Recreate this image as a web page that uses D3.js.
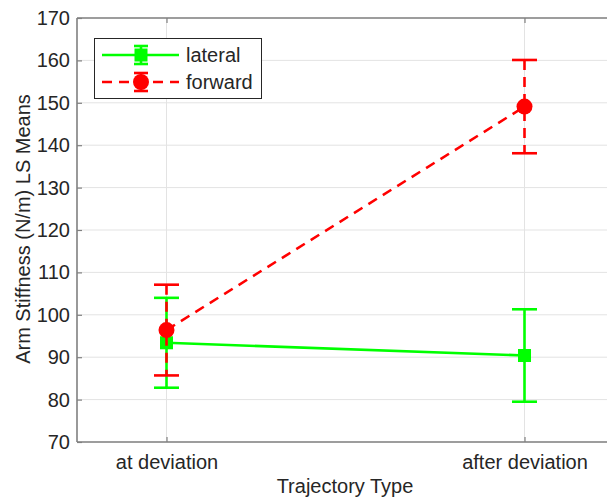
<!DOCTYPE html>
<html>
<head>
<meta charset="utf-8">
<script src="https://cdn.jsdelivr.net/npm/d3@7"></script>
<style>
  html, body { margin: 0; padding: 0; background: #fff; }
  svg { display: block; font-family: "Liberation Sans", Arial, sans-serif; }
</style>
</head>
<body>
<svg id="chart" width="607" height="499"></svg>
<script>
// Trajectory categories and their positions on the x axis
const categories = ["at deviation", "after deviation"];
const categoryPos = [1, 2];

// LS means with standard-error half-widths
const lateralMeans = [93.4, 90.4];
const lateralErr = [10.6, 10.9];
const forwardMeans = [96.4, 149.1];
const forwardErr = [10.7, 11.0];

const yTicks = [70, 80, 90, 100, 110, 120, 130, 140, 150, 160, 170];
const seriesNames = ["lateral", "forward"];

const svg = d3.select("#chart");
const x = d3.scaleLinear().domain([0.75, 2.25]).range([77, 614]);
const y = d3.scaleLinear().domain([70, 170]).range([442, 18]);

const axisColor = "#262626";
const spineColor = "#808080";
const fontSize = 20;

// grid lines
const grid = svg.append("g");
grid.selectAll("line.gy").data(yTicks).enter().append("line")
  .attr("x1", x.range()[0]).attr("x2", x.range()[1])
  .attr("y1", d => y(d)).attr("y2", d => y(d))
  .attr("stroke", "#e3e3e3").attr("stroke-width", 1);
grid.selectAll("line.gx").data(categoryPos).enter().append("line")
  .attr("x1", d => x(d)).attr("x2", d => x(d))
  .attr("y1", y.range()[0]).attr("y2", y.range()[1])
  .attr("stroke", "#e3e3e3").attr("stroke-width", 1);

// axes with inward ticks
const yAxis = d3.axisLeft(y).tickValues(yTicks).tickSize(-5).tickPadding(7).tickFormat(d3.format("d"));
const gy = svg.append("g").attr("transform", `translate(${x.range()[0]},0)`).call(yAxis);
const xAxis = d3.axisBottom(x).tickValues(categoryPos).tickSize(-5).tickPadding(13)
  .tickFormat((d, i) => categories[i]);
const gx = svg.append("g").attr("transform", `translate(0,${y.range()[0]})`).call(xAxis);
const xTop = d3.axisTop(x).tickValues(categoryPos).tickSize(-5).tickFormat("");
const gxt = svg.append("g").attr("transform", `translate(0,${y.range()[1]})`).call(xTop);

[gy, gx, gxt].forEach(g => {
  g.select(".domain").attr("stroke", spineColor).attr("stroke-width", 1.6);
  g.selectAll(".tick line").attr("stroke", spineColor).attr("stroke-width", 1.2);
  g.selectAll(".tick text").attr("fill", axisColor).attr("font-size", fontSize)
    .attr("font-family", "'Liberation Sans', Arial, sans-serif");
});
gy.select(".domain").attr("d", `M0,${y.range()[0]}V${y.range()[1]}`);
gx.select(".domain").attr("d", `M${x.range()[0]},0H${x.range()[1]}`);
gxt.select(".domain").attr("d", `M${x.range()[0]},0H${x.range()[1]}`);

// axis titles
svg.append("text")
  .attr("x", 345).attr("y", 493)
  .attr("text-anchor", "middle").attr("fill", axisColor).attr("font-size", fontSize)
  .text("Trajectory Type");
svg.append("text")
  .attr("transform", "translate(30,229) rotate(-90)")
  .attr("text-anchor", "middle").attr("fill", axisColor).attr("font-size", fontSize)
  .text("Arm Stiffness (N/m) LS Means");

// one errorbar series
function drawSeries(means, errs, color, dash, marker) {
  const g = svg.append("g");
  const pts = categoryPos.map((p, i) => ({ x: p, m: means[i], e: errs[i] }));
  const line = d3.line().x(d => x(d.x)).y(d => y(d.m));
  g.append("path").datum(pts).attr("d", line)
    .attr("fill", "none").attr("stroke", color).attr("stroke-width", 2.6)
    .attr("stroke-dasharray", dash);
  const capW = 12.5;
  pts.forEach(d => {
    g.append("line")
      .attr("x1", x(d.x)).attr("x2", x(d.x))
      .attr("y1", y(d.m + d.e)).attr("y2", y(d.m - d.e))
      .attr("stroke", color).attr("stroke-width", 2.6).attr("stroke-dasharray", dash);
    [d.m + d.e, d.m - d.e].forEach(v => {
      g.append("line")
        .attr("x1", x(d.x) - capW).attr("x2", x(d.x) + capW)
        .attr("y1", y(v)).attr("y2", y(v))
        .attr("stroke", color).attr("stroke-width", 2.6);
    });
  });
  pts.forEach(d => {
    if (marker === "square") {
      g.append("rect").attr("x", x(d.x) - 6.5).attr("y", y(d.m) - 6.5)
        .attr("width", 13).attr("height", 13).attr("fill", color);
    } else {
      g.append("circle").attr("cx", x(d.x)).attr("cy", y(d.m)).attr("r", 8).attr("fill", color);
    }
  });
}

drawSeries(lateralMeans, lateralErr, "#00ff00", null, "square");
drawSeries(forwardMeans, forwardErr, "#ff0000", "10,7", "circle");

// legend
const lg = svg.append("g");
lg.append("rect").attr("x", 94.5).attr("y", 38.5).attr("width", 167).attr("height", 60)
  .attr("fill", "#fff").attr("stroke", "#262626").attr("stroke-width", 1);
const legendItems = [
  { name: seriesNames[0], color: "#00ff00", dash: null, marker: "square", yy: 55 },
  { name: seriesNames[1], color: "#ff0000", dash: "10,7", marker: "circle", yy: 82 }
];
legendItems.forEach(it => {
  lg.append("line").attr("x1", 102).attr("x2", 179).attr("y1", it.yy).attr("y2", it.yy)
    .attr("stroke", it.color).attr("stroke-width", 2.6).attr("stroke-dasharray", it.dash);
  const mx = 141;
  lg.append("line").attr("x1", mx).attr("x2", mx).attr("y1", it.yy - 9).attr("y2", it.yy + 9)
    .attr("stroke", it.color).attr("stroke-width", 2.6);
  [it.yy - 9, it.yy + 9].forEach(v => {
    lg.append("line").attr("x1", mx - 7).attr("x2", mx + 7).attr("y1", v).attr("y2", v)
      .attr("stroke", it.color).attr("stroke-width", 2.6);
  });
  if (it.marker === "square") {
    lg.append("rect").attr("x", mx - 6.5).attr("y", it.yy - 6.5).attr("width", 13).attr("height", 13).attr("fill", it.color);
  } else {
    lg.append("circle").attr("cx", mx).attr("cy", it.yy).attr("r", 8).attr("fill", it.color);
  }
  lg.append("text").attr("x", 186).attr("y", it.yy + 7).attr("fill", axisColor)
    .attr("font-size", fontSize).text(it.name);
});
</script>
</body>
</html>
